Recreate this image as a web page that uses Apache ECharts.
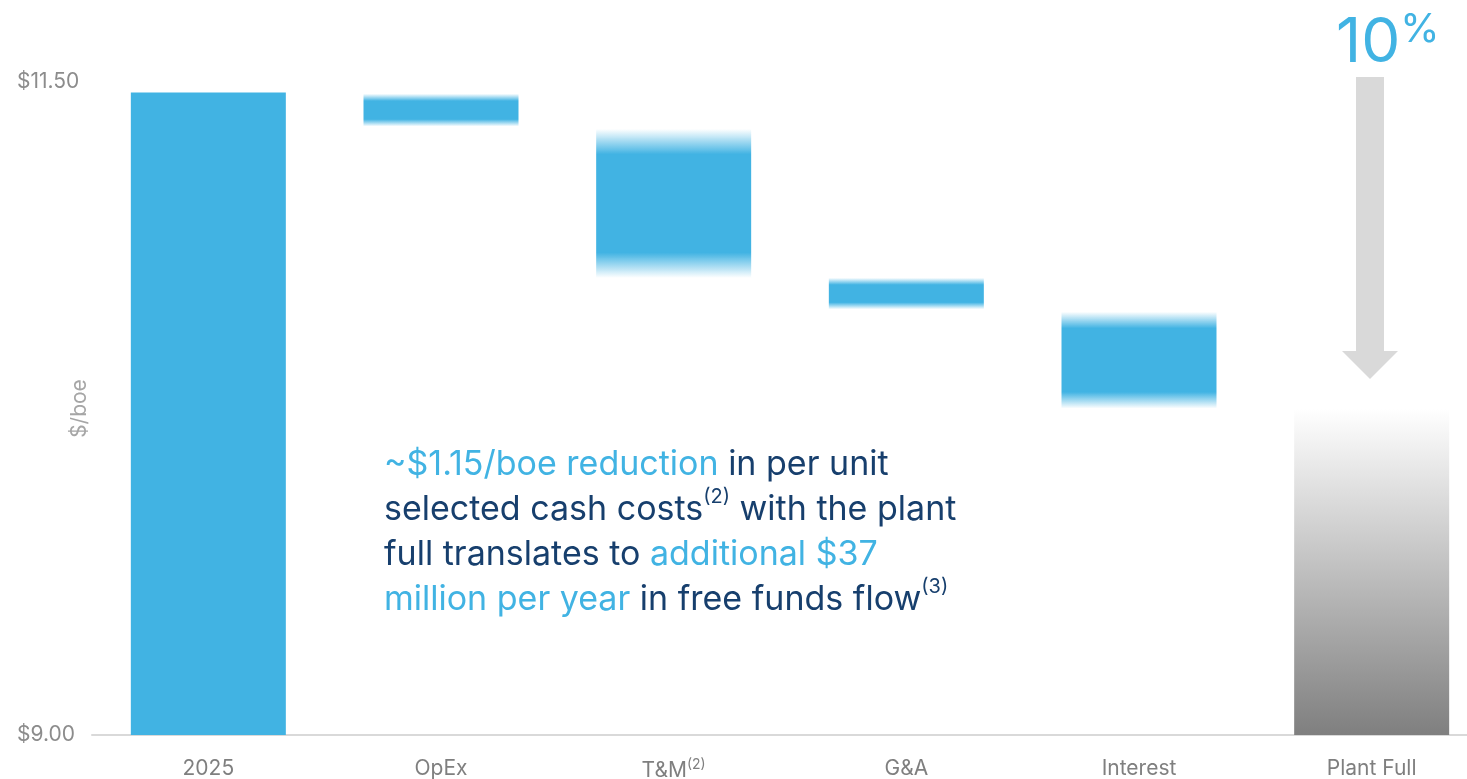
<!DOCTYPE html>
<html>
<head>
<meta charset="utf-8">
<title>Selected cash costs</title>
<script src="https://cdn.jsdelivr.net/npm/echarts@6/dist/echarts.min.js"></script>
<style>
  html, body { margin: 0; padding: 0; background: #fff; }
  #main { width: 1467px; height: 779px; }
</style>
</head>
<body>
<div id="main"></div>
<script>
// 数据
var categories = ['2025', 'OpEx', 'T&M', 'G&A', 'Interest', 'Plant Full'];
var barTop = [11.46, 11.455, 11.32, 10.75, 10.62, 10.25];
var barBottom = [9.00, 11.33, 10.75, 10.63, 10.25, 9.00];
var tickLabels = [9.00, 11.50];

var blue = '#41b3e3';
var navy = '#173f6d';
var font = 'Inter, "Noto Sans", sans-serif';

function fadeBlue(f) {
    return new echarts.graphic.LinearGradient(0, 0, 0, 1, [
        { offset: 0, color: 'rgba(65,179,227,0)' },
        { offset: f, color: blue },
        { offset: 1 - f, color: blue },
        { offset: 1, color: 'rgba(65,179,227,0)' }
    ]);
}

var grayFade = new echarts.graphic.LinearGradient(0, 0, 0, 1, [
    { offset: 0, color: '#ffffff' },
    { offset: 1, color: '#7f7f7f' }
]);

var baseData = barBottom.map(function (b) { return b; });
var valueData = barTop.map(function (t, i) {
    var color;
    if (i === 0) color = blue;
    else if (i === categories.length - 1) color = grayFade;
    else color = fadeBlue((t - barBottom[i]) > 0.2 ? 0.17 : 0.22);
    return { value: +(t - barBottom[i]).toFixed(3), itemStyle: { color: color } };
});

var myChart = echarts.init(document.getElementById('main'));

var option = {
    animation: false,
    grid: { left: 92, right: -21, top: 82, bottom: 44, outerBoundsMode: 'none', containLabel: false },
    xAxis: {
        type: 'category',
        data: categories,
        axisLine: { lineStyle: { color: '#d9d9d9', width: 2 } },
        axisTick: { show: false },
        axisLabel: {
            color: '#7f7f7f',
            fontSize: 21,
            fontFamily: font,
            margin: 23,
            formatter: function (v) {
                return v === 'T&M' ? 'T&M{sup|(2)}' : v;
            },
            rich: {
                sup: { fontSize: 14, color: '#7f7f7f', fontFamily: font, verticalAlign: 'top', padding: [0, 0, 12, 0] }
            }
        }
    },
    yAxis: {
        type: 'value',
        min: 9,
        max: 11.5,
        interval: 0.5,
        name: '$/boe',
        nameLocation: 'middle',
        nameGap: 2,
        nameMoveOverlap: false,
        nameTextStyle: { color: '#a6a6a6', fontSize: 21, fontFamily: font },
        axisLine: { show: false },
        axisTick: { show: false },
        splitLine: { show: false },
        axisLabel: {
            color: '#8c8c8c',
            fontSize: 21,
            fontFamily: font,
            align: 'left',
            margin: 75,
            formatter: function (v) {
                for (var i = 0; i < tickLabels.length; i++) {
                    if (Math.abs(v - tickLabels[i]) < 1e-6) return '$' + v.toFixed(2);
                }
                return '';
            }
        }
    },
    series: [
        {
            name: 'base',
            type: 'bar',
            stack: 'w',
            barWidth: 155,
            silent: true,
            itemStyle: { color: 'rgba(0,0,0,0)' },
            data: baseData
        },
        {
            name: 'cost',
            type: 'bar',
            stack: 'w',
            barWidth: 155,
            data: valueData
        }
    ],
    graphic: [
        {
            type: 'text',
            left: 384,
            top: 442,
            style: {
                text: '{b|~$1.15/boe reduction} {n|in per unit}\n' +
                      '{n|selected cash costs}{s|(2)}{n| with the plant}\n' +
                      '{n|full translates to }{b|additional $37}\n' +
                      '{b|million per year}{n| in free funds flow}{s|(3)}',
                fontFamily: font,
                fontSize: 34,
                lineHeight: 45,
                rich: {
                    b: { fill: blue, fontSize: 34, fontFamily: font, lineHeight: 45 },
                    n: { fill: navy, fontSize: 34, fontFamily: font, lineHeight: 45 },
                    s: { fill: navy, fontSize: 20, fontFamily: font, lineHeight: 45, verticalAlign: 'top', padding: [0, 0, 14, 0] }
                }
            }
        },
        {
            type: 'text',
            left: 1336,
            top: 10,
            style: {
                text: '{a|10}{p|%}',
                rich: {
                    a: { fill: blue, fontSize: 62, fontFamily: font, lineHeight: 66 },
                    p: { fill: blue, fontSize: 40, fontFamily: font, verticalAlign: 'top', padding: [0, 0, 20, 0] }
                }
            }
        },
        {
            type: 'polygon',
            shape: {
                points: [[1356, 77], [1384, 77], [1384, 351], [1398, 351], [1370, 379], [1342, 351], [1356, 351]]
            },
            style: { fill: '#d9d9d9' }
        }
    ]
};

myChart.setOption(option);
</script>
</body>
</html>
